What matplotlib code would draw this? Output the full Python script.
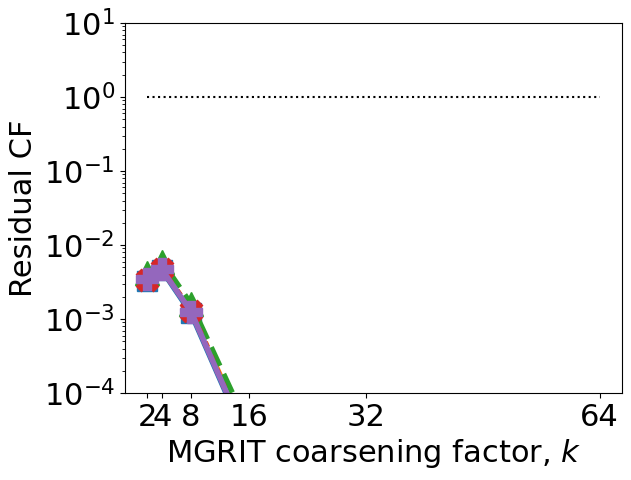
import matplotlib
matplotlib.use("Agg")
import matplotlib.pyplot as plt

# coarsening factors
k = [2, 4, 8, 16, 32, 64]

# residual convergence factor per run
res_a = [3.3e-3, 4.6e-3, 1.2e-3, 1.9e-5, 1e-8, 1e-12]
res_b = [3.5e-3, 4.8e-3, 1.3e-3, 2.3e-5, 1e-8, 1e-12]
res_c = [4.2e-3, 6.0e-3, 1.6e-3, 3.2e-5, 1e-8, 1e-12]
res_d = [3.4e-3, 4.7e-3, 1.3e-3, 2.0e-5, 1e-8, 1e-12]
res_e = [3.5e-3, 4.7e-3, 1.26e-3, 2.0e-5, 1e-8, 1e-12]

ref_x = [2, 64]
ref_y = [1.0, 1.0]

plt.rcParams['font.size'] = 22

fig = plt.figure(figsize=(6.31, 4.8), dpi=100)
ax = fig.add_axes([0.1976, 0.181, 0.7884, 0.771])

ax.plot(k, res_a, 's-', color='tab:blue', lw=4, ms=15)
ax.plot(k, res_b, 'o-.', color='tab:orange', lw=4, ms=15)
ax.plot(k, res_c, '^--', color='tab:green', lw=4, ms=17)
ax.plot(k, res_d, 'X:', color='tab:red', lw=4, ms=16)
ax.plot(k, res_e, 'P-', color='tab:purple', lw=4, ms=16)
ax.plot(ref_x, ref_y, 'k:', lw=1.5)

ax.set_yscale('log')
ax.set_ylim(1e-4, 1e1)
ax.set_xticks(k)
ax.set_xticklabels([str(v) for v in k])
ax.set_xlabel('MGRIT coarsening factor, $k$')
ax.set_ylabel('Residual CF')

fig.savefig('out.png')
